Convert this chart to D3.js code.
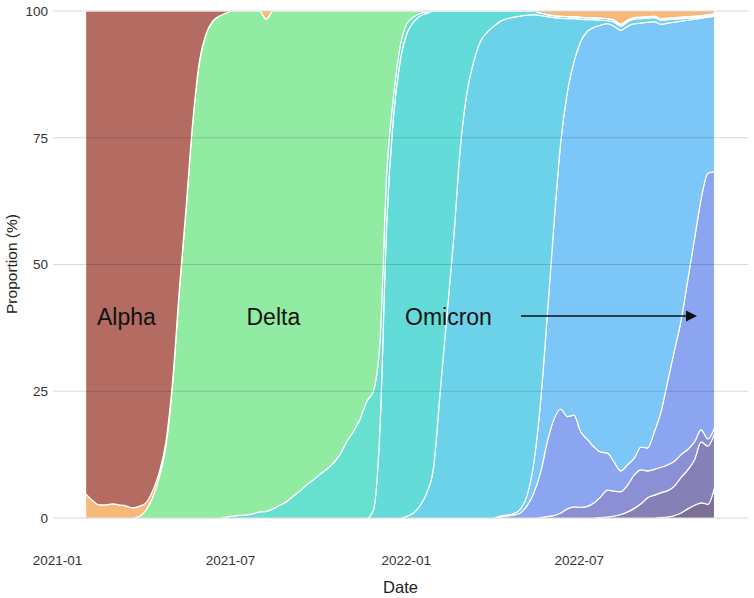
<!DOCTYPE html>
<html><head><meta charset="utf-8">
<script src="https://cdn.jsdelivr.net/npm/d3@7"></script>
<style>
body{margin:0;background:#fff}
svg{display:block}
text{font-family:"Liberation Sans",Arial,Helvetica,sans-serif}
</style>
</head><body>
<svg id="chart" width="754" height="598"></svg>
<script>
// ---------- data (weekly proportions, %) ----------
const startDate = "2021-01-31";
const stepDays = 7;
const xTickLabels = ["2021-01", "2021-07", "2022-01", "2022-07"];
const yTickValues = [0, 25, 50, 75, 100];

// stack order: bottom -> top
const seriesNames = ["XBB", "BQ.1.1", "BQ.1", "BA.2.75", "BA.5", "BA.2", "BA.1", "AY", "Delta", "Early", "Alpha", "Other"];

const xbb = [0,0,0,0,0,0,0,0,0,0, 0,0,0,0,0,0,0,0,0,0, 0,0,0,0,0,0,0,0,0,0, 0,0,0,0,0,0,0,0,0,0,
  0,0,0,0,0,0,0,0,0,0, 0,0,0,0,0,0,0,0,0,0, 0,0,0,0,0,0,0,0,0,0, 0,0,0,0,0,0,0,0,0,0,
  0,0,0,0,0,0,0.1,0.2,0.5,1, 1.8,2.5,3,2.7,6];
const bq11 = [0,0,0,0,0,0,0,0,0,0, 0,0,0,0,0,0,0,0,0,0, 0,0,0,0,0,0,0,0,0,0, 0,0,0,0,0,0,0,0,0,0,
  0,0,0,0,0,0,0,0,0,0, 0,0,0,0,0,0,0,0,0,0, 0,0,0,0,0,0,0,0,0,0, 0,0,0,0,0,0,0,0.1,0.2,0.4,
  0.7,1.2,1.9,2.8,4,4.5,4.9,5.2,5.8,7, 7.7,9,12,11.5,10.7];
const bq1 = [0,0,0,0,0,0,0,0,0,0, 0,0,0,0,0,0,0,0,0,0, 0,0,0,0,0,0,0,0,0,0, 0,0,0,0,0,0,0,0,0,0,
  0,0,0,0,0,0,0,0,0,0, 0,0,0,0,0,0,0,0,0,0, 0,0,0,0,0,0,0,0,0.1,0.3, 0.5,1,1.8,2.2,2.1,2.3,3,4.1,5.3,4.9,
  4.5,5.3,6.6,6.7,5.3,5.1,5,5.1,4.9,4.5, 4,3.5,2.4,1.4,1.1];
const ba275 = [0,0,0,0,0,0,0,0,0,0, 0,0,0,0,0,0,0,0,0,0, 0,0,0,0,0,0,0,0,0,0, 0,0,0,0,0,0,0,0,0,0,
  0,0,0,0,0,0,0,0,0,0, 0,0,0,0,0,0,0,0,0,0, 0,0,0.2,0.4,0.6,1,2.5,5,8.9,14.7, 19,20.5,18.2,18.1,14.9,13.2,11,8.8,7.3,5.7,
  4.1,4,3.3,4.5,4.5,7.4,11,16.5,21.8,26.5, 33.5,40,45.6,52.4,50.5];
const ba5 = [0,0,0,0,0,0,0,0,0,0, 0,0,0,0,0,0,0,0,0,0, 0,0,0,0,0,0,0,0,0,0, 0,0,0,0,0,0,0,0,0,0,
  0,0,0,0,0,0,0,0,0,0, 0,0,0,0,0,0,0,0,0,0, 0,0,0.2,0.2,0.3,0.8,2,6,14,25, 38.5,52.5,64,69.7,77,80.5,82.8,84.2,84.7,86,
  86.9,86.5,85.7,83.6,84,80.9,76.4,70.6,64.8,59, 51.2,43.4,35.6,30.8,30.7];
const ba2 = [0,0,0,0,0,0,0,0,0,0, 0,0,0,0,0,0,0,0,0,0, 0,0,0,0,0,0,0,0,0,0, 0,0,0,0,0,0,0,0,0,0,
  0,0,0,0,0,0,0,0,0.3,1, 2.5,5,10,25,40,55,73,84,90,94, 95.8,97,97.6,97.9,97.9,97.2,94.7,88.3,76.1,58.9,
  40.7,24.6,14.5,8.5,4.4,2.3,1.5,1.0,0.6,0.8, 0.8,0.9,0.9,0.9,0.8,0.8,0.8,0.7,0.6,0.5, 0.4,0.3,0.2,0.2,0.2];
const ba1 = [0,0,0,0,0,0,0,0,0,0, 0,0,0,0,0,0,0,0,0,0, 0,0,0,0,0,0,0,0,0,0, 0,0,0,0,0,0,0,0,0,0,
  0,0,0,1.5,18,58,79,90,95.2,96.8, 96.5,94.5,90,75,60,45,27,16,10,6, 4.2,3,2,1.5,1.2,1.0,0.8,0.7,0.5,0.4,
  0.4,0.4,0.4,0.4,0.4,0.4,0.4,0.4,0.4,0.4, 0.4,0.3,0.3,0.3,0.3,0.3,0.3,0.3,0.3,0.3, 0.3,0.3,0.3,0.3,0.3];
const ay = [0,0,0,0,0,0,0,0,0,0, 0,0,0,0,0,0,0,0,0,0, 0,0.2,0.4,0.5,0.6,0.8,1.2,1.3,1.8,2.5,
  3.2,4.3,5.3,6.5,7.5,8.6,9.6,10.8,12.5,15, 17,19.5,23,23.5,17,10,4,3,2,1, 0.5,0.3,0,0,0,0,0,0,0,0,
  0,0,0,0,0,0,0,0,0,0, 0,0,0,0,0,0,0,0,0,0, 0,0,0,0,0,0,0,0,0,0, 0,0,0,0,0];
const delta = [0,0,0,0,0,0,0,0,0.3,1.5, 4,8,14.2,26.4,44.5,60.6,77.7,89.8,95.4,98,
  99,99.4,99.6,99.5,99.4,99.2,98.8,97.1,98.2,97.5, 96.8,95.7,94.7,93.5,92.5,91.4,90.4,89.2,87.5,85,
  83,80.5,77,75,65,32,17,7,2.5,1.2, 0.5,0.2,0,0,0,0,0,0,0,0,
  0,0,0,0,0,0,0,0,0,0, 0,0,0,0,0,0,0,0,0,0, 0,0,0,0,0,0,0,0,0,0, 0,0,0,0,0];
const early = [4.8,3.5,2.6,2.6,2.8,2.6,2.4,2.0,2.0,1.5, 1.3,1,0.8,0.6,0.5,0.4,0.3,0.2,0.1,0,
  0,0,0,0,0,0,0,0,0,0, 0,0,0,0,0,0,0,0,0,0, 0,0,0,0,0,0,0,0,0,0, 0,0,0,0,0,0,0,0,0,0,
  0,0,0,0,0,0,0,0,0,0, 0,0,0,0,0,0,0,0,0,0, 0,0,0,0,0,0,0,0,0,0, 0,0,0,0,0];
const alpha = [95.2,96.5,97.4,97.4,97.2,97.4,97.6,98.0,97.7,97.0, 94.7,91,85,73,55,39,22,10,4.5,2,
  1,0.4,0,0,0,0,0,0,0,0, 0,0,0,0,0,0,0,0,0,0, 0,0,0,0,0,0,0,0,0,0, 0,0,0,0,0,0,0,0,0,0,
  0,0,0,0,0,0,0,0,0,0, 0,0,0,0,0,0,0,0,0,0, 0,0,0,0,0,0,0,0,0,0, 0,0,0,0,0];
const other = [0,0,0,0,0,0,0,0,0,0, 0,0,0,0,0,0,0,0,0,0, 0,0,0,0,0,0,0,1.6,0,0,
  0,0,0,0,0,0,0,0,0,0, 0,0,0,0,0,0,0,0,0,0, 0,0,0,0,0,0,0,0,0,0,
  0,0,0,0,0,0,0,0,0.4,0.7, 0.9,1.0,1.1,1.1,1.2,1.3,1.3,1.4,1.5,1.8,
  2.6,1.8,1.3,1.2,1.1,1.0,1.5,1.4,1.3,1.2, 1.1,1.0,0.9,0.7,0.5];

const seriesValues = [xbb, bq11, bq1, ba275, ba5, ba2, ba1, ay, delta, early, alpha, other];
const seriesColors = ["#7c6e95", "#8580b6", "#8b90d4", "#8ca5f0", "#7cc6f8", "#6cd2ea",
                      "#63dbd8", "#68e0cf", "#91eba2", "#f6b979", "#b36b62", "#f6b979"];

// ---------- build table ----------
const parse = d3.timeParse("%Y-%m-%d");
const t0 = parse(startDate);
const rows = xbb.map((_, i) => {
  const r = {date: d3.timeDay.offset(t0, i * stepDays)};
  seriesNames.forEach((k, j) => r[k] = seriesValues[j][i]);
  return r;
});

// ---------- layout ----------
const svg = d3.select("#chart");
const x = d3.scaleTime()
  .domain([parse("2020-12-30"), parse("2022-12-25")])
  .range([55, 748]);
const y = d3.scaleLinear().domain([0, 100]).range([518, 11]);

const stack = d3.stack().keys(seriesNames)
  .order(d3.stackOrderNone).offset(d3.stackOffsetNone);
const layers = stack(rows);

const area = d3.area()
  .x(d => x(d.data.date))
  .y0(d => y(d[0]))
  .y1(d => y(d[1]))
  .curve(d3.curveMonotoneX);

svg.append("g").selectAll("path").data(layers).join("path")
  .attr("d", area)
  .attr("fill", (d, i) => seriesColors[i])
  .attr("stroke", "#ffffff")
  .attr("stroke-width", 1.2)
  .attr("stroke-linejoin", "round");

// gridlines (drawn over the areas, translucent)
svg.append("g").selectAll("line").data(yTickValues).join("line")
  .attr("x1", 53).attr("x2", 748)
  .attr("y1", d => y(d)).attr("y2", d => y(d))
  .attr("stroke", "#000").attr("stroke-opacity", 0.15).attr("stroke-width", 1.1);

// axes
const xTicks = xTickLabels.map(s => parse(s + "-01"));
const xAxis = d3.axisBottom(x).tickValues(xTicks).tickFormat(d3.timeFormat("%Y-%m"))
  .tickSize(0).tickPadding(37.5);
const gx = svg.append("g").attr("transform", "translate(0,518)").call(xAxis);
gx.select(".domain").remove();
gx.selectAll("text").attr("font-size", 13.5).attr("fill", "#333")
  .attr("font-family", '"Liberation Sans",Arial,sans-serif');

const yAxis = d3.axisLeft(y).tickValues(yTickValues).tickSize(0).tickPadding(7);
const gy = svg.append("g").attr("transform", "translate(55,0)").call(yAxis);
gy.select(".domain").remove();
gy.selectAll("text").attr("font-size", 13.5).attr("fill", "#333")
  .attr("font-family", '"Liberation Sans",Arial,sans-serif');

// axis titles
svg.append("text").attr("x", 400.5).attr("y", 593).attr("text-anchor", "middle")
  .attr("font-size", 16.5).attr("fill", "#222").text("Date");
svg.append("text").attr("transform", "translate(17,264) rotate(-90)").attr("text-anchor", "middle")
  .attr("font-size", 15.5).attr("fill", "#222").text("Proportion (%)");

// annotations
const ann = svg.append("g").attr("font-size", 23).attr("fill", "#111");
ann.append("text").attr("x", 97).attr("y", 325).text("Alpha");
ann.append("text").attr("x", 246.5).attr("y", 325).text("Delta");
ann.append("text").attr("x", 405).attr("y", 325).text("Omicron");

const ay0 = 316;
svg.append("line").attr("x1", 521).attr("x2", 688).attr("y1", ay0).attr("y2", ay0)
  .attr("stroke", "#111").attr("stroke-width", 1.4);
svg.append("path")
  .attr("d", `M697,${ay0} L686,${ay0 - 5.5} L686,${ay0 + 5.5} Z`)
  .attr("fill", "#111");
</script>
</body></html>
